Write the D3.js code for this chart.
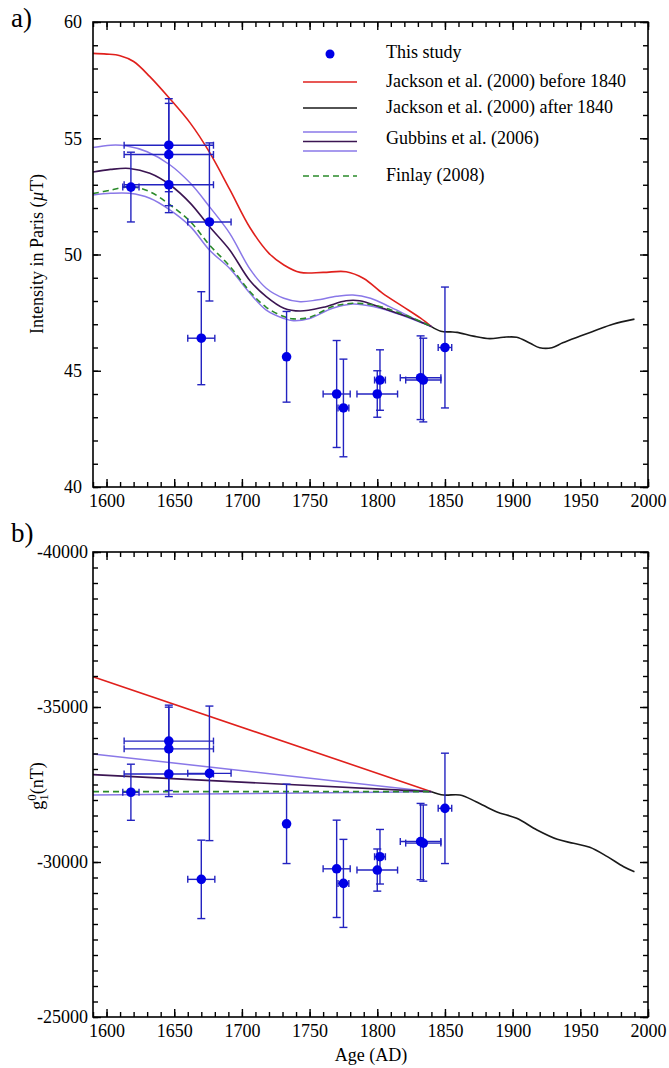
<!DOCTYPE html>
<html><head><meta charset="utf-8">
<script src="https://cdn.jsdelivr.net/npm/d3@7"></script>
<style>
body{margin:0;background:#fff}
svg{display:block}
text{font-family:"Liberation Serif","Times New Roman",serif;fill:#000}
</style>
</head><body><svg id="chart" width="669" height="1068"></svg>
<script>
// ---------- Data: archeomagnetic results (This study) ----------
const ages      = [1618, 1646, 1646, 1646, 1670, 1676, 1733, 1770, 1775, 1800, 1802, 1832, 1834, 1850];
const ageErr    = [6, 33, 33, 33, 10, 16, 0, 10, 4, 15, 4, 15, 13, 5];
const intensity = [52.9, 54.7, 54.3, 53.0, 46.4, 51.4, 45.6, 44.0, 43.4, 44.0, 44.6, 44.7, 44.6, 46.0];
const intErr    = [1.5, 2.0, 2.2, 1.2, 2.0, 3.4, 1.95, 2.3, 2.1, 1.0, 1.3, 1.8, 1.8, 2.6];
const g10       = [-32250, -33900, -33650, -32840, -29440, -32860, -31230, -29780, -29310, -29740, -30170, -30660, -30610, -31730];
const g10Err    = [905, 1160, 1345, 730, 1265, 2170, 1280, 1570, 1420, 680, 880, 1230, 1230, 1780];

// ---------- Panel a) model curves: intensity in Paris (µT) ----------
const jacksonBeforeYears = [1590, 1600, 1610, 1620, 1632, 1646, 1662, 1676, 1691, 1706, 1720, 1731, 1743, 1760, 1777, 1790, 1804, 1819, 1832, 1840];
const jacksonBeforeF     = [58.65, 58.62, 58.55, 58.3, 57.65, 56.75, 55.64, 54.4, 52.8, 51.15, 50.05, 49.55, 49.23, 49.23, 49.26, 48.97, 48.33, 47.76, 47.26, 46.9];
const gubbinsHighYears = [1590, 1603, 1615, 1630, 1647, 1662, 1676, 1691, 1706, 1718, 1731, 1743, 1755, 1770, 1782, 1795, 1809, 1824, 1840];
const gubbinsHighF     = [54.6, 54.7, 54.67, 54.42, 53.85, 53.06, 52.06, 50.91, 49.37, 48.55, 48.12, 47.97, 48.04, 48.2, 48.26, 48.12, 47.76, 47.33, 46.9];
const gubbinsMidYears = [1590, 1603, 1617, 1632, 1647, 1662, 1676, 1691, 1706, 1718, 1731, 1743, 1760, 1777, 1787, 1804, 1822, 1840];
const gubbinsMidF     = [53.55, 53.66, 53.7, 53.49, 52.99, 52.2, 51.2, 50.19, 48.87, 48.19, 47.69, 47.57, 47.73, 48.01, 48.01, 47.69, 47.33, 46.9];
const gubbinsLowYears = [1590, 1603, 1617, 1632, 1647, 1662, 1676, 1691, 1706, 1718, 1731, 1738, 1750, 1767, 1782, 1797, 1814, 1834, 1840];
const gubbinsLowF     = [52.56, 52.63, 52.63, 52.42, 51.91, 51.2, 50.19, 49.4, 48.33, 47.61, 47.25, 47.15, 47.25, 47.69, 47.87, 47.76, 47.47, 47.04, 46.9];
const finlayYears = [1590, 1603, 1617, 1632, 1647, 1662, 1676, 1691, 1706, 1718, 1731, 1738, 1750, 1767, 1782, 1797, 1814, 1834, 1840];
const finlayF     = [52.62, 52.77, 52.92, 52.7, 52.13, 51.41, 50.41, 49.5, 48.4, 47.73, 47.33, 47.23, 47.3, 47.76, 47.9, 47.83, 47.54, 47.07, 46.9];
const jacksonAfterYears = [1840, 1847, 1854, 1859, 1871, 1883, 1893, 1903, 1913, 1920, 1929, 1937, 1950, 1962, 1974, 1990];
const jacksonAfterF     = [46.9, 46.7, 46.67, 46.65, 46.49, 46.38, 46.44, 46.44, 46.18, 45.99, 45.99, 46.2, 46.49, 46.75, 47.0, 47.22];

// ---------- Panel b) model curves: g10 (nT) ----------
const linYears = [1590, 1840];
const jacksonBeforeG = [-35978, -32269];
const gubbinsHighG   = [-33484, -32269];
const gubbinsMidG    = [-32817, -32269];
const gubbinsLowG    = [-32161, -32269];
const finlayG        = [-32269, -32269];
const jacksonAfterGYears = [1840, 1849, 1861, 1873, 1888, 1903, 1918, 1933, 1945, 1957, 1970, 1982, 1990];
const jacksonAfterG      = [-32269, -32161, -32161, -31946, -31623, -31409, -31032, -30731, -30602, -30473, -30172, -29849, -29688];

// ---------- Axis ticks ----------
const xMajorTicks = [1600, 1650, 1700, 1750, 1800, 1850, 1900, 1950, 2000];
const xMinorTicks = d3.range(1590, 2001, 10);
const yAMajorTicks = [40, 45, 50, 55, 60];
const yAMinorTicks = d3.range(40, 61, 1);
const yBMajorTicks = [-40000, -35000, -30000, -25000];
const yBMinorTicks = d3.range(-40000, -24999, 500);

const legendLabels = ["This study", "Jackson et al. (2000) before 1840", "Jackson et al. (2000) after 1840", "Gubbins et al. (2006)", "Finlay (2008)"];

// ---------- Styles ----------
const C = {
  red: "#e0201c", black: "#1a1a1a", light: "#8a78e8", dark: "#3b1552",
  green: "#2a8a2a", dot: "#0000e6", err: "#2323c0"
};
const FONT = 18;

const svg = d3.select("#chart");
const L = 93, R = 648;
const x = d3.scaleLinear().domain([1590, 2000]).range([L, R]);
const yA = d3.scaleLinear().domain([40, 60]).range([487, 22]);
const yB = d3.scaleLinear().domain([-40000, -25000]).range([552, 1017]);

function drawAxes(y, top, bottom, majors, minors, leftPad) {
  const g = svg.append("g");
  const fmt = d => String(d);
  // bottom
  const ab = g.append("g").attr("transform", `translate(0,${bottom})`)
    .call(d3.axisBottom(x).tickValues(xMajorTicks).tickSizeInner(-8).tickSizeOuter(0).tickPadding(7).tickFormat(fmt));
  g.append("g").attr("transform", `translate(0,${bottom})`)
    .call(d3.axisBottom(x).tickValues(xMinorTicks).tickSizeInner(-5).tickSizeOuter(0).tickFormat(""));
  // top
  g.append("g").attr("transform", `translate(0,${top})`)
    .call(d3.axisTop(x).tickValues(xMajorTicks).tickSizeInner(-8).tickSizeOuter(0).tickFormat(""));
  g.append("g").attr("transform", `translate(0,${top})`)
    .call(d3.axisTop(x).tickValues(xMinorTicks).tickSizeInner(-5).tickSizeOuter(0).tickFormat(""));
  // left
  g.append("g").attr("transform", `translate(${L},0)`)
    .call(d3.axisLeft(y).tickValues(majors).tickSizeInner(-8).tickSizeOuter(0).tickPadding(leftPad).tickFormat(fmt));
  g.append("g").attr("transform", `translate(${L},0)`)
    .call(d3.axisLeft(y).tickValues(minors).tickSizeInner(-5).tickSizeOuter(0).tickFormat(""));
  // right
  g.append("g").attr("transform", `translate(${R},0)`)
    .call(d3.axisRight(y).tickValues(majors).tickSizeInner(-8).tickSizeOuter(0).tickFormat(""));
  g.append("g").attr("transform", `translate(${R},0)`)
    .call(d3.axisRight(y).tickValues(minors).tickSizeInner(-5).tickSizeOuter(0).tickFormat(""));
  g.selectAll(".domain").remove();
  g.selectAll(".tick line").attr("stroke", "#000").attr("stroke-width", 1.4);
  g.selectAll(".tick text").attr("font-family", '"Liberation Serif","Times New Roman",serif')
    .attr("font-size", FONT).attr("fill", "#000");
  svg.append("rect").attr("x", L).attr("y", top).attr("width", R - L).attr("height", bottom - top)
    .attr("fill", "none").attr("stroke", "#000").attr("stroke-width", 1.6);
}

function drawLine(xs, ys, y, color, width, dash, curve) {
  const pts = xs.map((d, i) => [d, ys[i]]);
  svg.append("path").datum(pts)
    .attr("d", d3.line().x(d => x(d[0])).y(d => y(d[1])).curve(curve || d3.curveLinear))
    .attr("fill", "none").attr("stroke", color).attr("stroke-width", width)
    .attr("stroke-dasharray", dash || null).attr("stroke-linejoin", "round");
}

function drawPoints(y, vals, errs) {
  const g = svg.append("g").attr("stroke", C.err).attr("stroke-width", 1.4).attr("fill", "none");
  const cap = 4, capH = 3.5;
  ages.forEach((a, i) => {
    const cx = x(a), cy = y(vals[i]);
    const y1 = y(vals[i] - errs[i]), y2 = y(vals[i] + errs[i]);
    g.append("line").attr("x1", cx).attr("x2", cx).attr("y1", y1).attr("y2", y2);
    g.append("line").attr("x1", cx - cap).attr("x2", cx + cap).attr("y1", y1).attr("y2", y1);
    g.append("line").attr("x1", cx - cap).attr("x2", cx + cap).attr("y1", y2).attr("y2", y2);
    if (ageErr[i] > 0) {
      const x1 = x(a - ageErr[i]), x2 = x(a + ageErr[i]);
      g.append("line").attr("x1", x1).attr("x2", x2).attr("y1", cy).attr("y2", cy);
      g.append("line").attr("x1", x1).attr("x2", x1).attr("y1", cy - capH).attr("y2", cy + capH);
      g.append("line").attr("x1", x2).attr("x2", x2).attr("y1", cy - capH).attr("y2", cy + capH);
    }
  });
  svg.append("g").selectAll("circle").data(ages).join("circle")
    .attr("cx", d => x(d)).attr("cy", (d, i) => y(vals[i])).attr("r", 4.8).attr("fill", C.dot);
}

const smooth = d3.curveCatmullRom.alpha(0.5);

// ---------- Panel a ----------
drawLine(jacksonBeforeYears, jacksonBeforeF, yA, C.red, 1.6, null, smooth);
drawLine(gubbinsHighYears, gubbinsHighF, yA, C.light, 1.5, null, smooth);
drawLine(gubbinsLowYears, gubbinsLowF, yA, C.light, 1.5, null, smooth);
drawLine(gubbinsMidYears, gubbinsMidF, yA, C.dark, 1.6, null, smooth);
drawLine(finlayYears, finlayF, yA, C.green, 1.6, "6,4", smooth);
drawLine(jacksonAfterYears, jacksonAfterF, yA, C.black, 1.6, null, smooth);
drawPoints(yA, intensity, intErr);
drawAxes(yA, 22, 487, yAMajorTicks, yAMinorTicks, 11);

// legend
const lg = svg.append("g");
const lx1 = 303, lx2 = 357, tx = 386;
lg.append("circle").attr("cx", 330).attr("cy", 54).attr("r", 4.5).attr("fill", C.dot);
const legRows = [
  {y: 82, items: [{c: C.red}]},
  {y: 108, items: [{c: C.black}]},
  {y: 141.5, items: [{c: C.light, dy: -9.5}, {c: C.dark, dy: 0}, {c: C.light, dy: 9.5}]},
  {y: 176, items: [{c: C.green, dash: "6,4"}]}
];
legRows.forEach(r => r.items.forEach(it => {
  lg.append("line").attr("x1", lx1).attr("x2", lx2).attr("y1", r.y + (it.dy || 0)).attr("y2", r.y + (it.dy || 0))
    .attr("stroke", it.c).attr("stroke-width", 1.6).attr("stroke-dasharray", it.dash || null);
}));
const textY = [52.5, 81, 107, 138, 175];
legendLabels.forEach((t, i) => {
  lg.append("text").attr("x", tx).attr("y", textY[i]).attr("dy", "0.33em").attr("font-size", FONT).text(t);
});

// panel labels
svg.append("text").attr("x", 11).attr("y", 27).attr("font-size", 27).text("a)");
svg.append("text").attr("x", 11).attr("y", 542).attr("font-size", 27).text("b)");

// y title a
svg.append("text").attr("transform", "translate(43,254) rotate(-90)").attr("text-anchor", "middle")
  .attr("font-size", FONT)
  .call(t => {
    t.append("tspan").text("Intensity in Paris (");
    t.append("tspan").attr("font-style", "italic").text("µ");
    t.append("tspan").text("T)");
  });

// ---------- Panel b ----------
drawLine(linYears, jacksonBeforeG, yB, C.red, 1.6);
drawLine(linYears, gubbinsHighG, yB, C.light, 1.5);
drawLine(linYears, gubbinsLowG, yB, C.light, 1.5);
drawLine(linYears, gubbinsMidG, yB, C.dark, 1.6);
drawLine(linYears, finlayG, yB, C.green, 1.6, "6,4");
drawLine(jacksonAfterGYears, jacksonAfterG, yB, C.black, 1.6, null, smooth);
drawPoints(yB, g10, g10Err);
drawAxes(yB, 552, 1017, yBMajorTicks, yBMinorTicks, 5);

// y title b : g_1^0 (nT)
svg.append("text").attr("transform", "translate(43,786) rotate(-90)").attr("text-anchor", "middle")
  .attr("font-size", FONT)
  .call(t => {
    t.append("tspan").text("g");
    t.append("tspan").attr("font-size", 13).attr("dy", -7).text("0");
    t.append("tspan").attr("font-size", 13).attr("dx", -6.5).attr("dy", 12).text("1");
    t.append("tspan").attr("dy", -5).text("(nT)");
  });

// x title
svg.append("text").attr("x", 371).attr("y", 1061).attr("text-anchor", "middle").attr("font-size", FONT).text("Age (AD)");
</script></body></html>
